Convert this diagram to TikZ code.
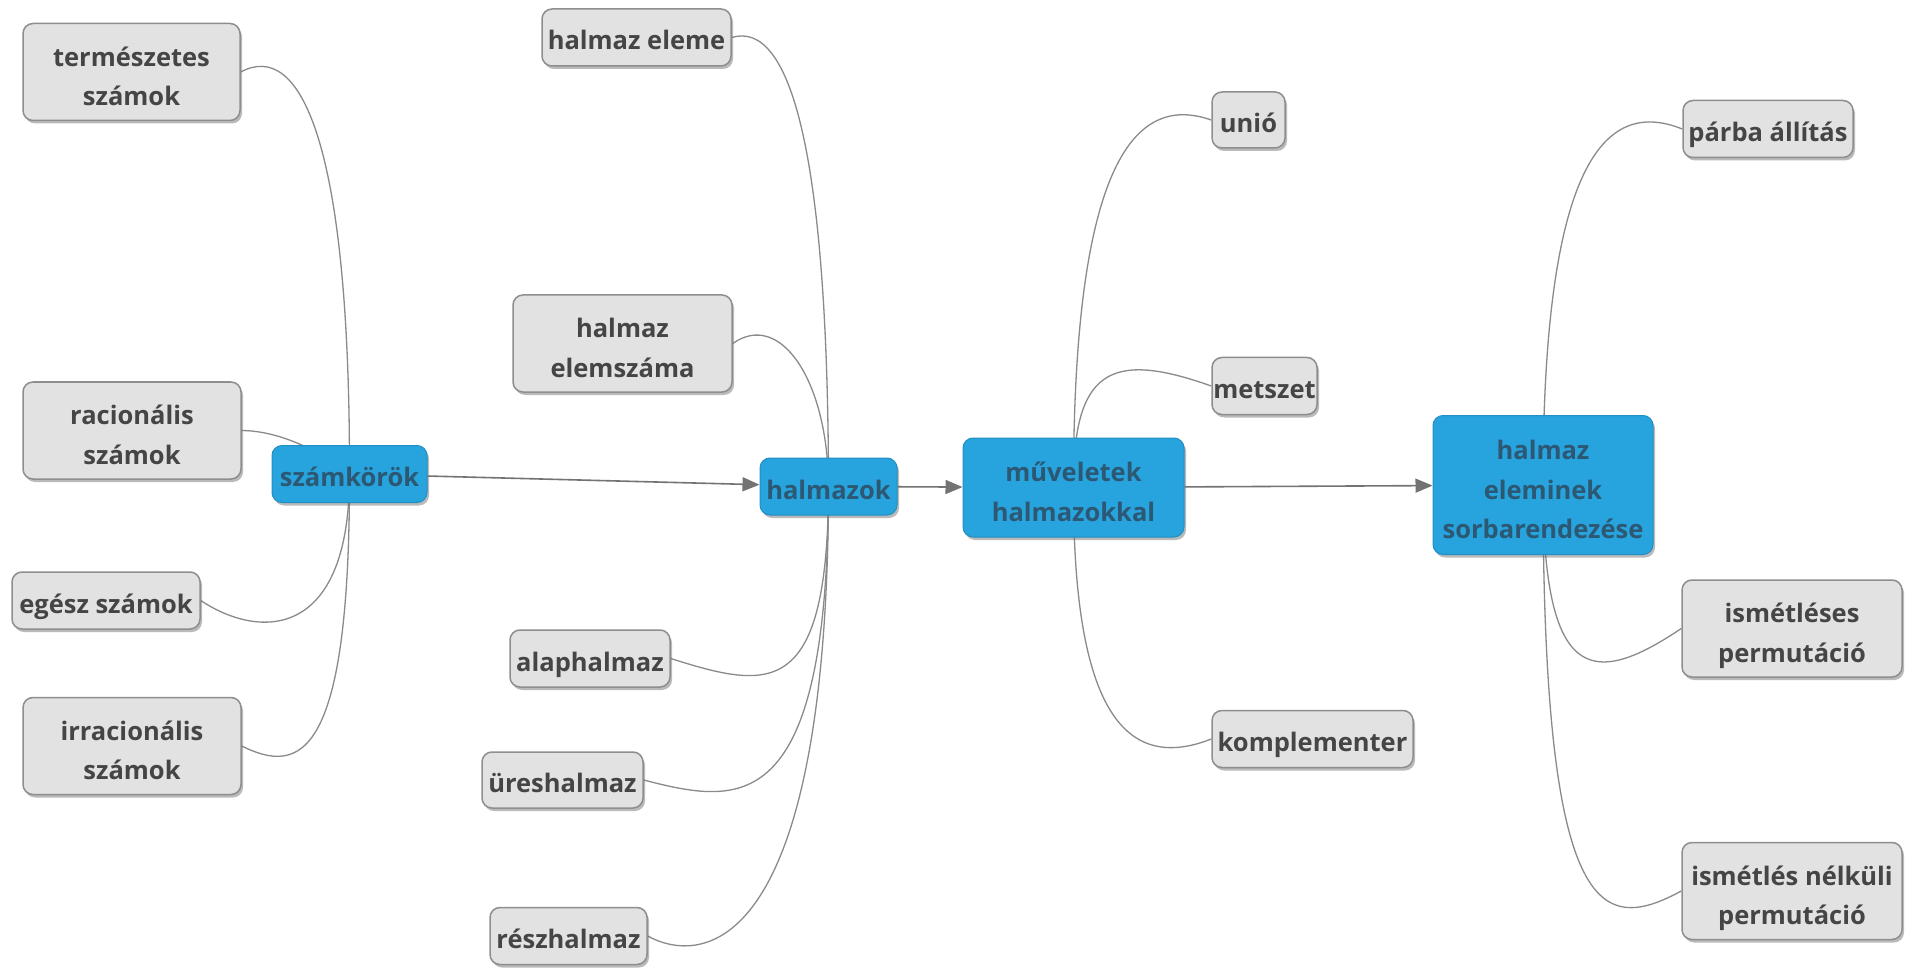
\documentclass[tikz,border=0pt]{standalone}
\usepackage{fontspec}
\setmainfont{Open Sans}
\usetikzlibrary{arrows.meta,shadows,backgrounds}
\definecolor{bluefill}{HTML}{27A3DD}
\definecolor{bluetext}{HTML}{2C5874}
\definecolor{grayfill}{HTML}{E2E2E2}
\definecolor{grayborder}{HTML}{8E8E8E}
\definecolor{graytext}{HTML}{454545}
\definecolor{linkgray}{HTML}{8A8A8A}
\definecolor{arrowgray}{HTML}{737373}
\newcommand\boxstrut{\rule[-8pt]{0pt}{41pt}}
\newcommand\firstline{\rule[-8pt]{0pt}{44pt}}
\begin{document}
\begin{tikzpicture}[x=1pt,y=-1pt,
  box/.style={rounded corners=10pt, inner sep=0pt, align=center,
    font=\fontsize{25.5}{39.5}\selectfont\bfseries,
    execute at begin node=\boxstrut, execute at end node=\boxstrut},
  sz/.style 2 args={minimum width=#1pt, minimum height=#2pt},
  leaf/.style={box, fill=grayfill, draw=grayborder, line width=1.5pt, text=graytext,
    drop shadow={shadow xshift=2pt, shadow yshift=-3pt, opacity=0.45, fill=black!60}},
  hub/.style={box, fill=bluefill, draw=bluefill!88!black, line width=1pt, text=bluetext,
    drop shadow={shadow xshift=2pt, shadow yshift=-3pt, opacity=0.45, fill=black!60}},
  link/.style={draw=linkgray, line width=1.3pt},
  flow/.style={draw=arrowgray, line width=1.6pt, -{Triangle[length=17pt,width=14pt]}}
]
\useasboundingbox (0,0) rectangle (1907,968);

% nodes
\node[leaf, sz={217}{97}] (nat) at (131.5,72) {\firstline természetes\\számok};
\node[leaf, sz={218}{97}] (rac) at (132,430.5) {\firstline racionális\\számok};
\node[hub, sz={155}{57}] (szk) at (349.5,474) {számkörök};
\node[leaf, sz={188}{57}] (ege) at (106,600.5) {egész számok};
\node[leaf, sz={218}{97}] (irr) at (132,746) {\firstline irracionális\\számok};
\node[leaf, sz={189}{57}] (hel) at (636.5,37.5) {halmaz eleme};
\node[leaf, sz={219}{97}] (hes) at (622.5,343.5) {\firstline halmaz\\elemszáma};
\node[hub, sz={137}{57}] (hal) at (828.5,486.5) {halmazok};
\node[leaf, sz={160}{57}] (ala) at (590,658.5) {alaphalmaz};
\node[leaf, sz={161}{56}] (ure) at (562.5,780) {üreshalmaz};
\node[leaf, sz={157}{57}] (res) at (568.5,936) {részhalmaz};
\node[hub, sz={221}{99}] (mue) at (1073.5,487.5) {\firstline műveletek\\halmazokkal};
\node[leaf, sz={73}{56}] (uni) at (1248.5,120) {unió};
\node[leaf, sz={105}{57}] (met) at (1264.5,386) {metszet};
\node[leaf, sz={201}{57}] (kom) at (1312.5,739) {komplementer};
\node[hub, sz={220}{139}] (sor) at (1543,485) {\firstline halmaz\\eleminek\\sorbarendezése};
\node[leaf, sz={170}{57}] (par) at (1768,129) {párba állítás};
\node[leaf, sz={220}{97}] (ism) at (1792,628.5) {\firstline ismétléses\\permutáció};
\node[leaf, sz={220}{97}] (isn) at (1792,891) {\firstline ismétlés nélküli\\permutáció};

% links behind the boxes
\begin{scope}[on background layer]
\fill[white] (0,0) rectangle (1907,968);
\draw[link] (szk.center) .. controls (350,140) and (300,40) .. (nat.east);
\draw[link] (szk.center) .. controls (345,470) and (295,431) .. (rac.east);
\draw[link] (szk.center) .. controls (350,640) and (260,640) .. (ege.east);
\draw[link] (szk.center) .. controls (350,760) and (300,775) .. (irr.east);
\draw[link] (hal.center) .. controls (828,150) and (790,20) .. (hel.east);
\draw[link] (hal.center) .. controls (828,380) and (780,310) .. (hes.east);
\draw[link] (hal.center) .. controls (828,700) and (770,690) .. (ala.east);
\draw[link] (hal.center) .. controls (828,820) and (740,805) .. (ure.east);
\draw[link] (hal.center) .. controls (828,960) and (700,965) .. (res.east);
\draw[link] (mue.center) .. controls (1073,150) and (1140,95) .. (uni.west);
\draw[link] (mue.center) .. controls (1073,370) and (1110,350) .. (met.west);
\draw[link] (mue.center) .. controls (1073,700) and (1120,775) .. (kom.west);
\draw[link] (sor.center) .. controls (1543,150) and (1610,100) .. (par.west);
\draw[link] (sor.center) .. controls (1543,680) and (1590,690) .. (ism.west);
\draw[link] (sor.center) .. controls (1543,920) and (1600,935) .. (isn.west);
\end{scope}

% main flow
\draw[flow] (szk) -- (hal);
\draw[flow] (hal) -- (mue);
\draw[flow] (mue) -- (sor);
\end{tikzpicture}
\end{document}
